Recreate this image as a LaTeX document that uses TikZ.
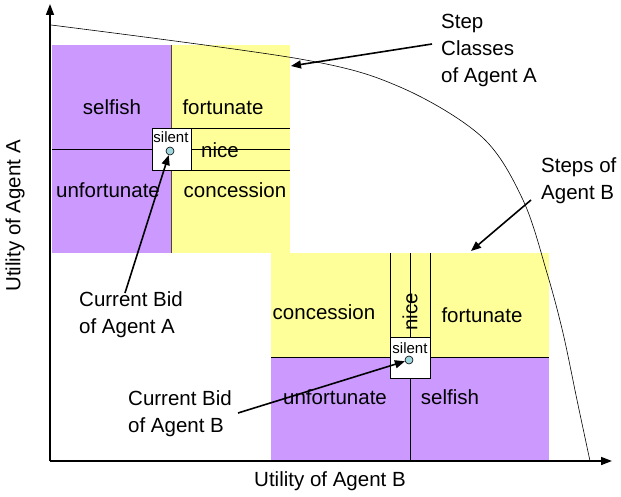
\documentclass[tikz,border=0pt]{standalone}
\usepackage{fontspec}
\setmainfont{Liberation Sans}
\usetikzlibrary{arrows.meta,positioning}

\definecolor{selfpurple}{RGB}{204,153,255}
\definecolor{concyellow}{RGB}{255,255,153}
\definecolor{bidcyan}{RGB}{160,214,222}

\begin{document}
\begin{tikzpicture}[x=1pt,y=-1pt,
  region/.style={font=\fontsize{20.5}{24}\selectfont,inner sep=0pt},
  caption/.style={font=\fontsize{20.5}{27}\selectfont,align=left,inner sep=0pt},
  silentbox/.style={draw,fill=white,line width=0.6pt,inner sep=0pt},
  silenttext/.style={font=\fontsize{15}{16}\selectfont,inner sep=0pt},
  bid/.style={circle,draw,fill=bidcyan,minimum size=8pt,inner sep=0pt,line width=0.6pt},
  border/.style={line width=0.6pt},
  arrow/.style={-{Triangle[length=10pt,width=8pt]},line width=1.6pt},
  axis/.style={-{Triangle[length=11pt,width=8pt]},line width=1.6pt}
]
\useasboundingbox (0,0) rectangle (621,497);

% ---- step classes of agent A ----
\fill[selfpurple] (52,45) rectangle (171,253);
\fill[concyellow] (171,45) rectangle (290,253);
\draw[border] (52,149) -- (290,149);
\draw[border] (191,128) -- (290,128);
\draw[border] (191,170) -- (290,170);
\draw[border,black!60!olive] (171,45) -- (171,253);
\node[region] (selfA) at (112,107) {selfish};
\node[region] (fortA) at (223,107) {fortunate};
\node[region] (niceA) at (220,150) {nice};
\node[region] (unfA)  at (108,190) {unfortunate};
\node[region] (concA) at (235,190) {concession};
\node[silentbox,minimum width=39pt,minimum height=42pt] (silA) at (171.5,149.3) {};
\node[silenttext] (silAtext) at (171,137) {silent};
\node[bid] (bidA) at (170,151) {};

% ---- steps of agent B ----
\fill[concyellow] (271,253) rectangle (549,357);
\fill[selfpurple] (271,357) rectangle (549,460);
\draw[border] (271,357) -- (549,357);
\draw[border] (390,253) -- (390,337);
\draw[border] (430,253) -- (430,337);
\draw[border] (410,253) -- (410,460);
\node[region] (concB) at (324,312) {concession};
\node[region,rotate=90] (niceB) at (410,312) {nice};
\node[region] (fortB) at (482,315) {fortunate};
\node[region] (unfB)  at (335,397) {unfortunate};
\node[region] (selfB) at (450,397) {selfish};
\node[silentbox,minimum width=40pt,minimum height=41pt] (silB) at (410,357.5) {};
\node[silenttext] (silBtext) at (410,348) {silent};
\node[bid] (bidB) at (409,360) {};

% ---- axes and frontier ----
\coordinate (origin) at (50,461);
\coordinate (ytop) at (50,4);
\coordinate (xend) at (612,461);
\draw[axis] (origin) -- (ytop);
\draw[axis] (origin) -- (xend);
\draw[line width=0.6pt] plot[smooth,tension=0.55] coordinates
  {(51,25) (300,59) (400,87) (482,137) (523,200) (547,273) (563,333) (577,400) (590,461)};
\node[region,rotate=90] (utilA) at (15,216) {Utility of Agent A};
\node[region] (utilB) at (330,481) {Utility of Agent B};

% ---- captions ----
\node[caption,anchor=west] (stepsA) at (441,50) {Step\\Classes\\of Agent A};
\node[caption,anchor=west] (stepsB) at (541,181) {Steps of\\Agent B};
\node[caption,anchor=west] (curA) at (79,315) {Current Bid\\of Agent A};
\node[caption,anchor=west] (curB) at (128,414) {Current Bid\\of Agent B};

\coordinate (stepsAtail) at (432,44);
\coordinate (stepsAtip) at (291,66);
\coordinate (stepsBtail) at (531,200);
\coordinate (stepsBtip) at (471,251);
\coordinate (curAtail) at (125,293);
\coordinate (curBtail) at (238,413);
\draw[arrow] (stepsAtail) -- (stepsAtip);
\draw[arrow] (stepsBtail) -- (stepsBtip);
\draw[arrow] (curAtail) -- (bidA);
\draw[arrow] (curBtail) -- (bidB);
\end{tikzpicture}
\end{document}
